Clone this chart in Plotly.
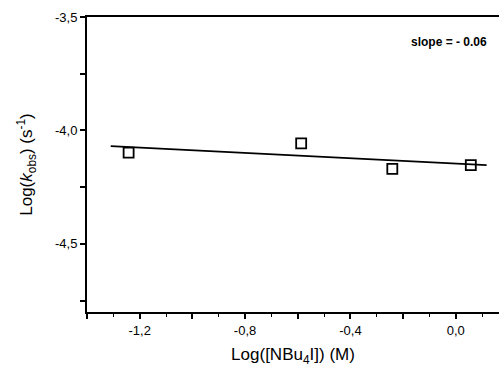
import plotly.graph_objects as go

# Data
log_nbu4i = [-1.242, -0.587, -0.241, 0.057]
log_kobs = [-4.098, -4.057, -4.169, -4.153]
fit_x = [-1.31, 0.117]
fit_y = [-4.069, -4.153]

x_tickvals = [-1.4, -1.2, -1.0, -0.8, -0.6, -0.4, -0.2, 0.0, 0.2]
x_ticktext = ["", "-1,2", "", "-0,8", "", "-0,4", "", "0,0", ""]
y_tickvals = [-4.75, -4.5, -4.25, -4.0, -3.75, -3.5]
y_ticktext = ["", "-4,5", "", "-4,0", "", "-3,5"]

fig = go.Figure()
fig.add_trace(go.Scatter(x=fit_x, y=fit_y, mode="lines",
                         line=dict(color="black", width=1.8), showlegend=False))
fig.add_trace(go.Scatter(x=log_nbu4i, y=log_kobs, mode="markers",
                         marker=dict(symbol="square-open", size=10, color="black",
                                     line=dict(width=1.8, color="black")),
                         showlegend=False))

fig.update_layout(
    width=499, height=372,
    margin=dict(l=87, r=0, t=17, b=60, autoexpand=False),
    plot_bgcolor="white", paper_bgcolor="white",
    font=dict(family="Arial, Liberation Sans, sans-serif", color="black"),
    annotations=[dict(text="<b>slope = - 0.06</b>", xref="paper", yref="paper",
                      x=(489 - 87) / 412, y=(312 - 42) / 295, xanchor="right", yanchor="middle",
                      showarrow=False, font=dict(size=12, color="black"))],
)
fig.update_xaxes(
    range=[-1.4, 0.164], tickmode="array", tickvals=x_tickvals, ticktext=x_ticktext,
    ticks="outside", ticklen=5, tickwidth=1.5, tickcolor="black",
    minor=dict(dtick=0.1, tick0=0, ticks="outside", ticklen=3, tickwidth=1.2, tickcolor="black"),
    showline=True, linewidth=2, linecolor="black", mirror=True, automargin=False,
    showgrid=False, zeroline=False, tickfont=dict(size=13, color="black"),
    title=dict(text="Log([NBu<sub>4</sub>I]) (M)", font=dict(size=17, color="black"), standoff=12),
)
fig.update_yaxes(
    range=[-4.8, -3.5], tickmode="array", tickvals=y_tickvals, ticktext=y_ticktext,
    ticks="outside", ticklen=5, tickwidth=1.5, tickcolor="black",
    showline=True, linewidth=2, linecolor="black", automargin=False,
    showgrid=False, zeroline=False, tickfont=dict(size=13, color="black"),
    title=dict(text="Log(<i>k</i><sub>obs</sub>) (s<sup>-1</sup>)", font=dict(size=17, color="black"), standoff=18),
)

fig.write_html(
    "out.html", config={"displayModeBar": False},
    post_script=(
        "document.documentElement.style.overflow='hidden';"
        "document.documentElement.style.margin='0';"
        "document.body.style.margin='0';"
        "document.body.style.overflow='hidden';"
    ),
)
